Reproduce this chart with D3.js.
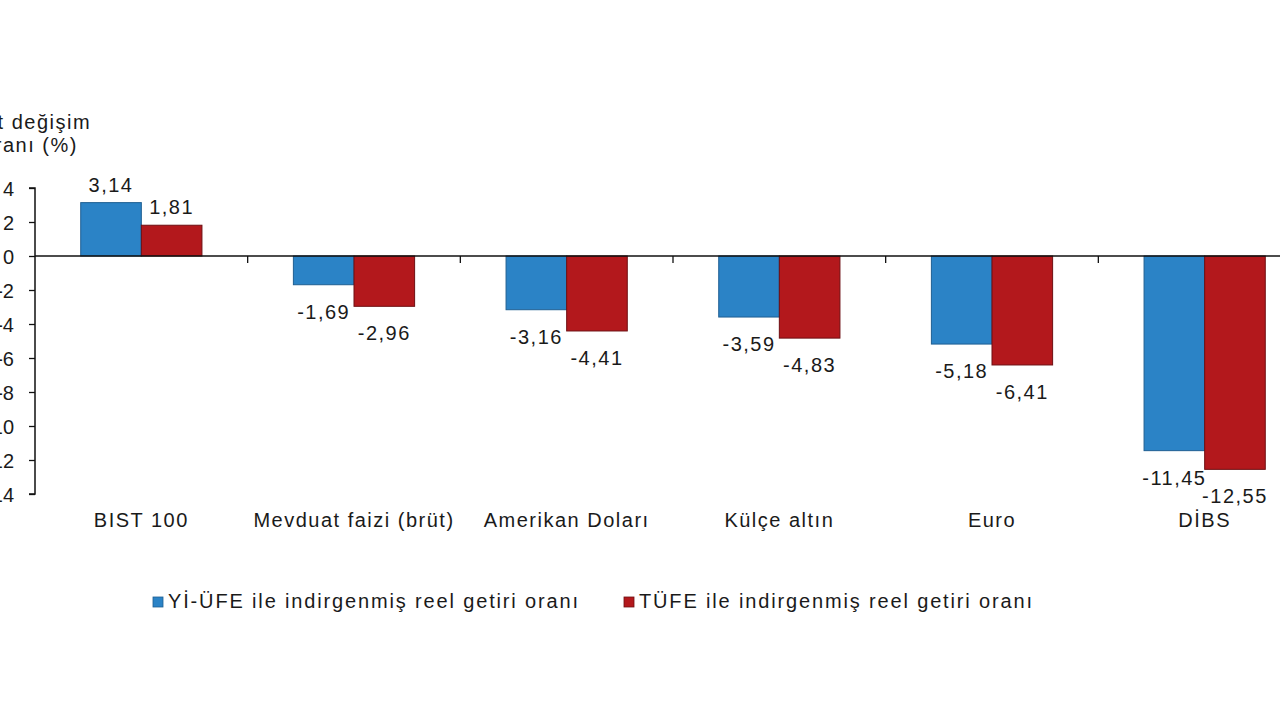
<!DOCTYPE html>
<html lang="tr">
<head>
<meta charset="UTF-8">
<title>Reel getiri oranları</title>
<script src="https://d3js.org/d3.v7.min.js"></script>
<style>
  body { margin: 0; background: #fff; }
  svg { display: block; font-family: "Liberation Sans", Arial, sans-serif; }
  .tick text { font-size: 20px; fill: #1a1a1a; }
  .lbl { font-size: 20px; fill: #1a1a1a; letter-spacing: 1.5px; }
  .leg { letter-spacing: 1.85px; }
</style>
</head>
<body>
<svg width="1280" height="720"></svg>
<script>
  // data
  const categories = ["BIST 100", "Mevduat faizi (brüt)", "Amerikan Doları", "Külçe altın", "Euro", "DİBS"];
  const yiufe = [3.14, -1.69, -3.16, -3.59, -5.18, -11.45];
  const tufe = [1.81, -2.96, -4.41, -4.83, -6.41, -12.55];
  const seriesNames = ["Yİ-ÜFE ile indirgenmiş reel getiri oranı", "TÜFE ile indirgenmiş reel getiri oranı"];
  const yTicks = [4, 2, 0, -2, -4, -6, -8, -10, -12, -14];

  const colors = ["#2b83c6", "#b3181c"];
  const strokes = ["#1f5f92", "#6e0f12"];

  const svg = d3.select("svg");
  const plotLeft = 35, plotRight = 1311, plotTop = 188, plotBottom = 494;

  const x = d3.scaleBand().domain(categories).range([plotLeft, plotRight]).paddingInner(0.43).paddingOuter(0.215);
  const sub = d3.scaleBand().domain([0, 1]).range([0, x.bandwidth()]);
  const y = d3.scaleLinear().domain([-14, 4]).range([plotBottom, plotTop]);

  // y axis
  const yAxis = svg.append("g")
    .attr("transform", `translate(${plotLeft},0)`)
    .call(d3.axisLeft(y).tickValues(yTicks).tickSize(6).tickPadding(15).tickFormat(d => d));
  yAxis.select(".domain").attr("stroke", "#111").attr("stroke-width", 1.5).attr("d", `M-6,${y(4)}H0V${y(-14)}H-6`);
  yAxis.selectAll(".tick line").attr("stroke", "#111").attr("stroke-width", 1.3);
  yAxis.selectAll(".tick text").attr("dy", "0.36em");

  // title (cut at the left edge)
  svg.append("text").attr("class", "lbl").attr("text-anchor", "middle").attr("x", 30).attr("y", 129).text("Net değişim");
  svg.append("text").attr("class", "lbl").attr("text-anchor", "middle").attr("x", 30).attr("y", 152).text("oranı (%)");

  // bars
  const groups = categories.map((c, i) => ({ c, vals: [yiufe[i], tufe[i]] }));
  const g = svg.append("g").selectAll("g").data(groups).join("g")
    .attr("transform", d => `translate(${x(d.c)},0)`);

  g.selectAll("rect").data(d => d.vals.map((v, k) => ({ v, k }))).join("rect")
    .attr("x", d => sub(d.k))
    .attr("width", sub.bandwidth())
    .attr("y", d => y(Math.max(0, d.v)))
    .attr("height", d => Math.abs(y(d.v) - y(0)))
    .attr("fill", d => colors[d.k])
    .attr("stroke", d => strokes[d.k])
    .attr("stroke-width", 1);

  g.selectAll("text").data(d => d.vals.map((v, k) => ({ v, k }))).join("text")
    .attr("class", "lbl")
    .attr("text-anchor", "middle")
    .attr("x", d => sub(d.k) + sub.bandwidth() / 2)
    .attr("y", d => d.v >= 0 ? y(d.v) - 11 : y(d.v) + 34)
    .text(d => d3.format(".2f")(d.v).replace(".", ",").replace("\u2212", "-"));

  // zero line with category ticks
  svg.append("line").attr("x1", plotLeft).attr("x2", 1280).attr("y1", y(0)).attr("y2", y(0))
    .attr("stroke", "#111").attr("stroke-width", 1.3);
  const step = x.step();
  svg.append("g").selectAll("line").data(categories.slice(1)).join("line")
    .attr("x1", d => x(d) - step * x.paddingInner() / 2)
    .attr("x2", d => x(d) - step * x.paddingInner() / 2)
    .attr("y1", y(0)).attr("y2", y(0) + 7)
    .attr("stroke", "#111").attr("stroke-width", 1.3);

  // category labels
  svg.append("g").selectAll("text").data(categories).join("text")
    .attr("class", "lbl")
    .attr("text-anchor", "middle")
    .attr("x", d => x(d) + x.bandwidth() / 2)
    .attr("y", 527)
    .text(d => d);

  // legend
  const legX = [153, 624];
  const leg = svg.append("g").selectAll("g").data(seriesNames).join("g")
    .attr("transform", (d, i) => `translate(${legX[i]},597)`);
  leg.append("rect").attr("width", 10).attr("height", 10)
    .attr("fill", (d, i) => colors[i]).attr("stroke", (d, i) => strokes[i]).attr("stroke-width", 0.8);
  leg.append("text").attr("class", "lbl leg").attr("x", 15).attr("y", 11).text(d => d);
</script>
</body>
</html>
